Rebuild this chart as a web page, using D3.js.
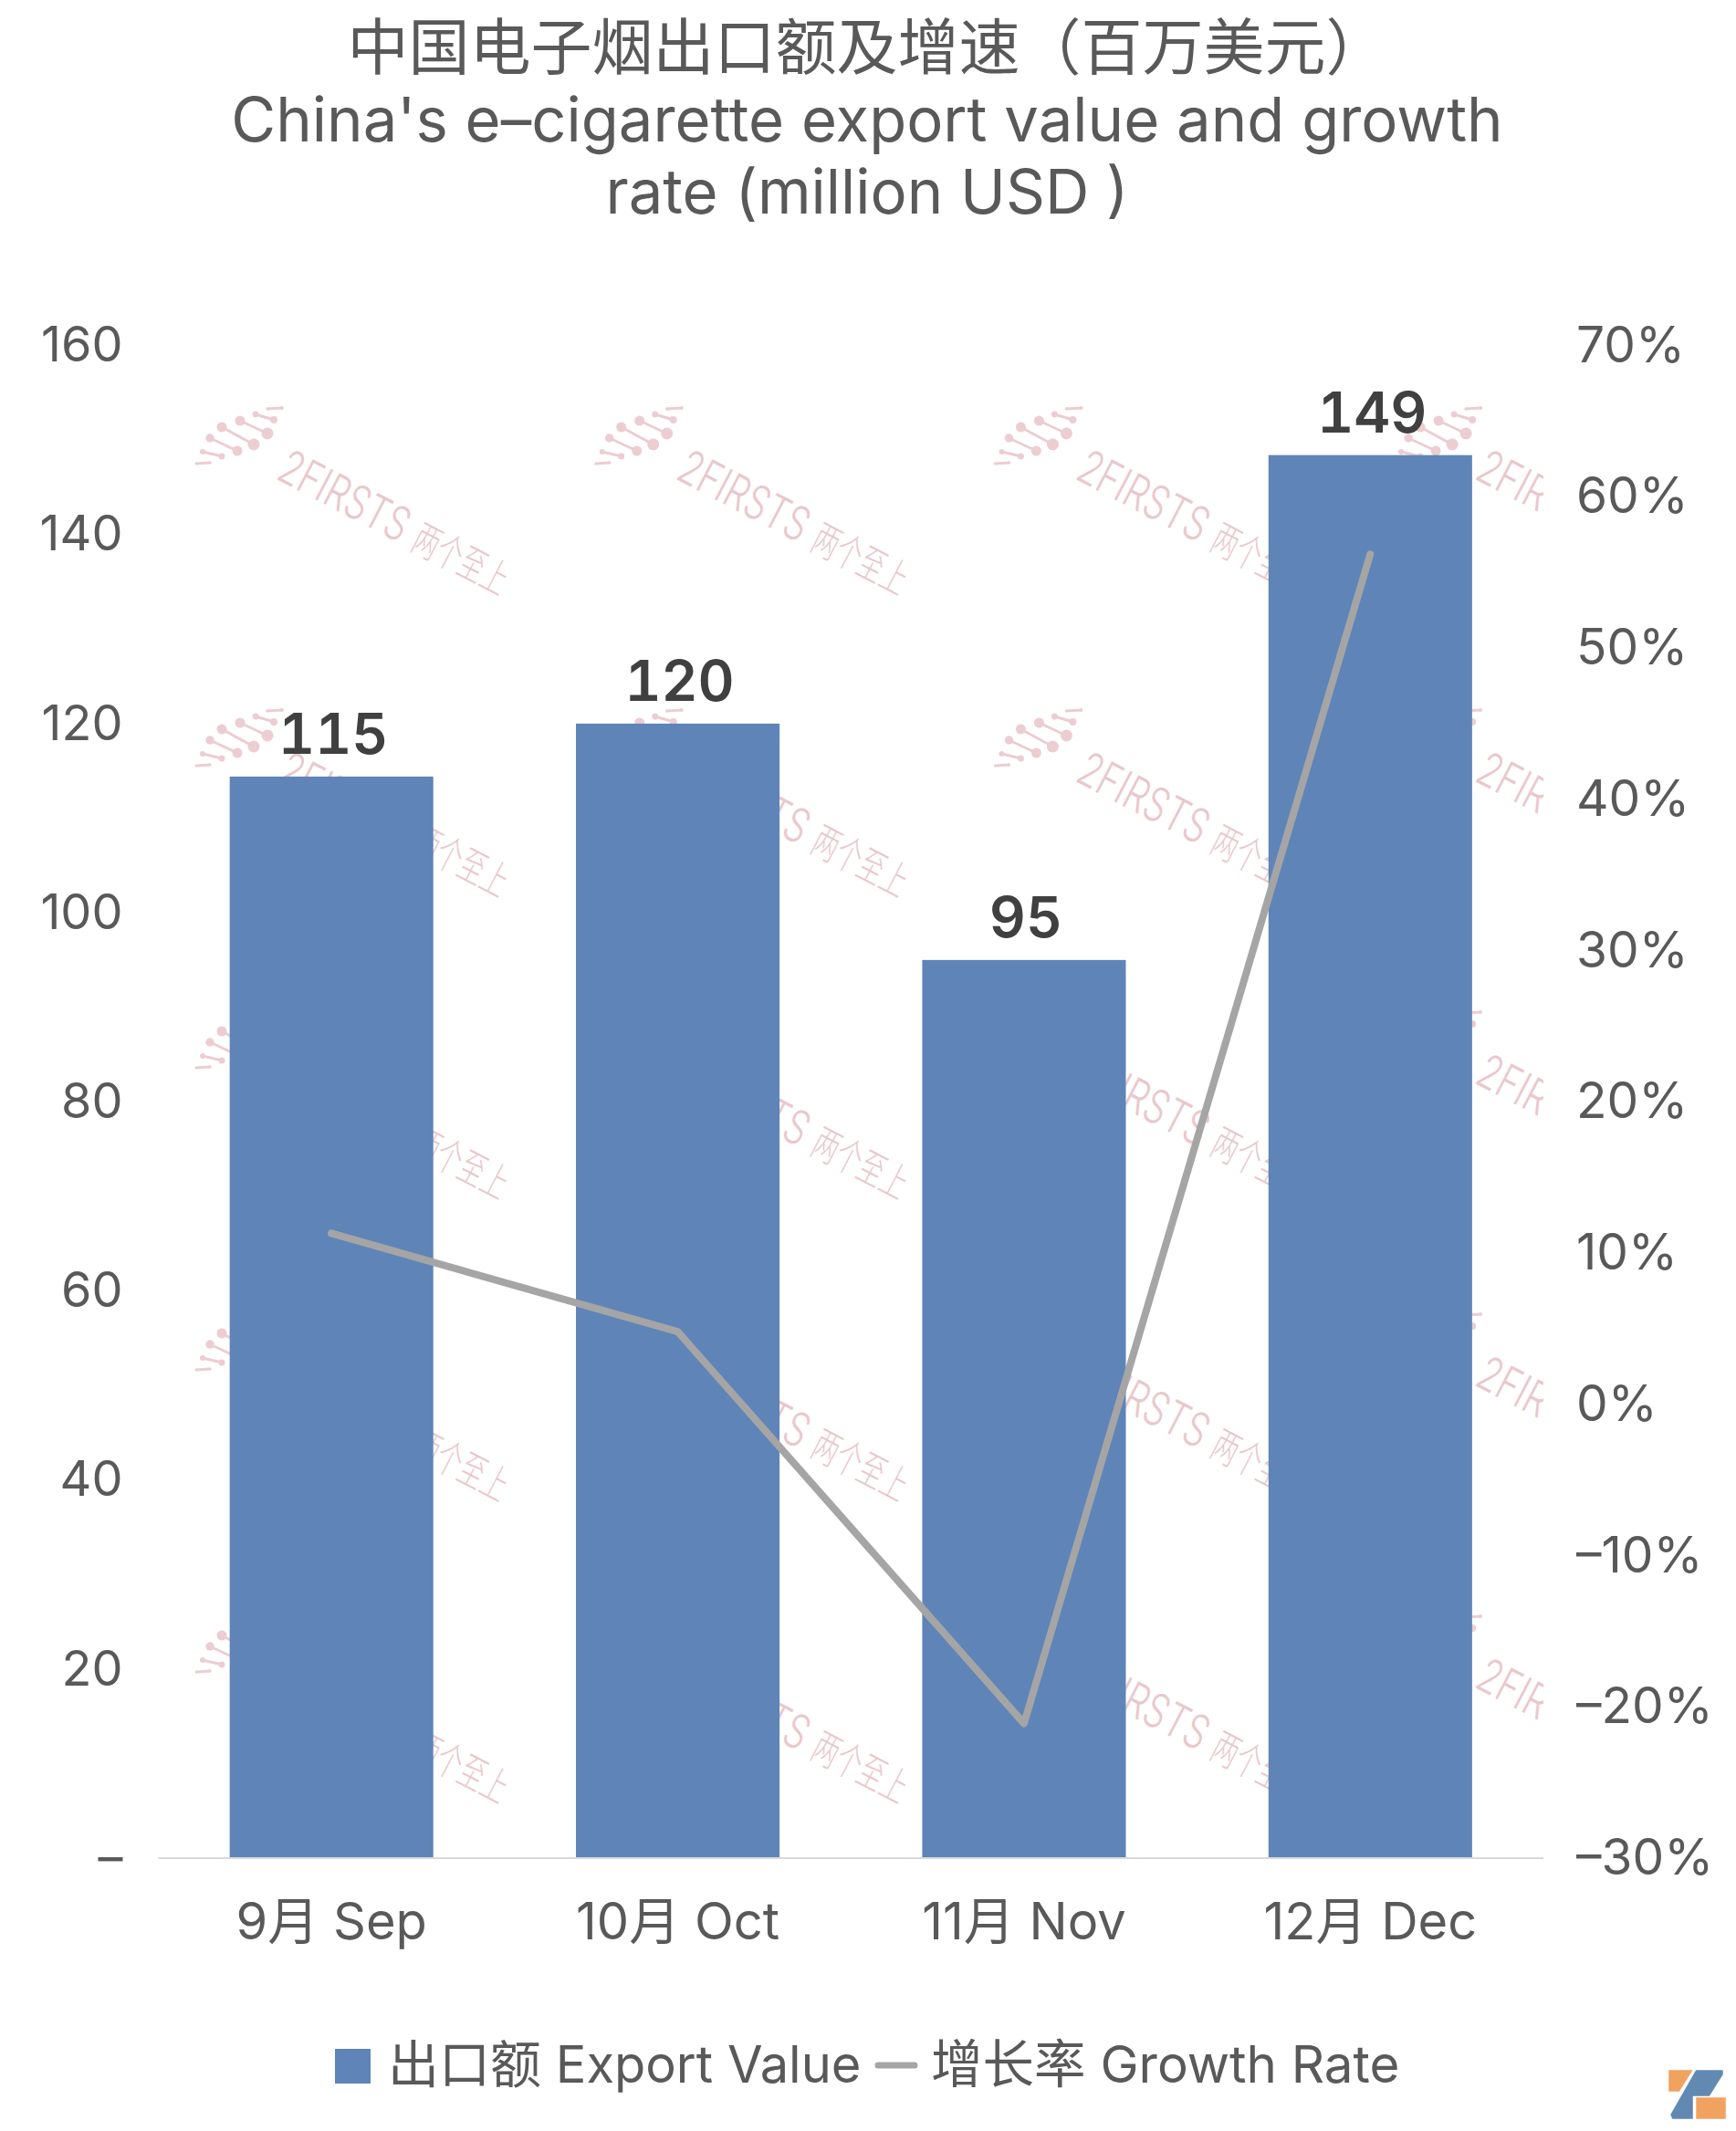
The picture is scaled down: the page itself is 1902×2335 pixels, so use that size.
<!DOCTYPE html>
<html>
<head>
<meta charset="utf-8">
<script src="https://cdnjs.cloudflare.com/ajax/libs/d3/7.8.5/d3.min.js"></script>
<style>
  html, body { margin: 0; padding: 0; background: #fff; }
  svg { display: block; }
  text { font-family: Inter, "Noto Sans CJK SC", sans-serif; fill: #595959; }
</style>
</head>
<body>
<svg id="chart" width="1902" height="2335"></svg>
<script>
const months = ['9月 Sep', '10月 Oct', '11月 Nov', '12月 Dec'];
const exportValue = [114.4, 120, 95, 148.4];
const exportLabels = ['115', '120', '95', '149'];
const growthRate = [11.3, 4.8, -21.1, 56.2];
const valueTicks = [0, 20, 40, 60, 80, 100, 120, 140, 160];
const rateTicks = [-30, -20, -10, 0, 10, 20, 30, 40, 50, 60, 70];
const titleLines = [
  '中国电子烟出口额及增速（百万美元）',
  "China's e–cigarette export value and growth",
  'rate (million USD )'
];

const plot = { left: 173.5, right: 1691, top: 378.5, bottom: 2036 };
const svg = d3.select('#chart');

const x = d3.scaleBand().domain(months).range([plot.left, plot.right]).paddingInner(0.412).paddingOuter(0.206);
const yValue = d3.scaleLinear().domain([0, 160]).range([plot.bottom, plot.top]);
const yRate = d3.scaleLinear().domain([-30, 70]).range([plot.bottom, plot.top]);

// Watermark tiles sit behind the bars and get cut off at the plot's right edge
svg.append('clipPath').attr('id', 'plot-clip')
  .append('rect').attr('x', 0).attr('y', 0).attr('width', plot.right).attr('height', 2335);

const fanLines = [
  [35, 88, 50, 87, 1.8], [42, 75, 63, 80, 3.5], [50, 60, 80, 74, 5.5],
  [63, 48, 98, 67, 6.5], [83, 41, 113, 55, 6.5], [100, 34, 120, 40, 4], [113, 28, 129, 27, 2]
];
const tiles = d3.cross(d3.range(5), d3.range(5)).map(([c, r]) => ({ c, r }));
const tile = svg.append('g').attr('clip-path', 'url(#plot-clip)')
  .selectAll('.tile')
  .data(tiles)
  .enter()
  .append('g')
  .attr('class', 'tile')
  .attr('transform', (d) => `translate(${180 + d.c * 437.7},${420 + d.r * 331})`);

fanLines.forEach((l) => {
  tile.append('line')
    .attr('x1', l[0]).attr('y1', l[1]).attr('x2', l[2]).attr('y2', l[3])
    .attr('stroke', '#eccdd1').attr('stroke-width', 3);
  tile.append('circle').attr('cx', l[0]).attr('cy', l[1]).attr('r', l[4] * 0.85).attr('fill', '#eccdd1');
  tile.append('circle').attr('cx', l[2]).attr('cy', l[3]).attr('r', l[4]).attr('fill', '#eccdd1');
});

const mark = tile.append('g').attr('transform', 'translate(121,104) rotate(27.5)');
mark.append('text')
  .attr('font-size', 52)
  .attr('font-weight', 300)
  .attr('textLength', 154)
  .attr('lengthAdjust', 'spacingAndGlyphs')
  .style('fill', '#e9c8cc')
  .text('2FIRSTS');
mark.append('text')
  .attr('x', 166)
  .attr('font-size', 44)
  .attr('font-weight', 300)
  .attr('textLength', 112)
  .attr('lengthAdjust', 'spacingAndGlyphs')
  .style('fill', '#e9c8cc')
  .text('两个至上');

// Bars
svg.append('g')
  .selectAll('.bar')
  .data(exportValue)
  .enter()
  .append('rect')
  .attr('class', 'bar')
  .attr('x', (d, i) => x(months[i]))
  .attr('y', (d) => yValue(d))
  .attr('width', x.bandwidth())
  .attr('height', (d) => plot.bottom - yValue(d))
  .attr('fill', '#5f84b8');

svg.append('line')
  .attr('x1', plot.left).attr('x2', plot.right)
  .attr('y1', plot.bottom).attr('y2', plot.bottom)
  .attr('stroke', '#d9d9d9').attr('stroke-width', 2);

// Growth line
const line = d3.line()
  .x((d, i) => x(months[i]) + x.bandwidth() / 2)
  .y((d) => yRate(d));

svg.append('path')
  .attr('d', line(growthRate))
  .attr('fill', 'none')
  .attr('stroke', '#a5a5a5')
  .attr('stroke-width', 8)
  .attr('stroke-linecap', 'round')
  .attr('stroke-linejoin', 'round');

// Bar labels, tabular figures keep the 1s as wide as in the reference
svg.append('g')
  .selectAll('text')
  .data(exportValue)
  .enter()
  .append('text')
  .attr('x', (d, i) => x(months[i]) + x.bandwidth() / 2 + 2)
  .attr('y', (d) => yValue(d) - 25)
  .attr('text-anchor', 'middle')
  .attr('font-size', 62)
  .attr('font-weight', 600)
  .style('font-variant-numeric', 'tabular-nums')
  .style('fill', '#404040')
  .text((d, i) => exportLabels[i]);

// Axes
const styleAxis = (size) => (g) => {
  g.select('.domain').remove();
  g.selectAll('.tick line').remove();
  g.selectAll('.tick text').attr('font-size', size).attr('font-family', null).style('fill', '#595959');
};

svg.append('g')
  .attr('transform', `translate(${plot.left},0)`)
  .call(d3.axisLeft(yValue).tickValues(valueTicks).tickSize(0).tickPadding(39)
    .tickFormat((d) => (d === 0 ? '–' : d)))
  .call(styleAxis(54));

svg.append('g')
  .attr('transform', `translate(${plot.right},0)`)
  .call(d3.axisRight(yRate).tickValues(rateTicks).tickSize(0).tickPadding(36)
    .tickFormat((d) => `${d}%`.replace('-', '–')))
  .call(styleAxis(55));

svg.append('g')
  .attr('transform', `translate(0,${plot.bottom})`)
  .call(d3.axisBottom(x).tickSize(0).tickPadding(49))
  .call(styleAxis(56));

// Title
svg.append('g')
  .selectAll('text')
  .data(titleLines)
  .enter()
  .append('text')
  .attr('x', 950)
  .attr('y', (d, i) => 76 + i * 79)
  .attr('text-anchor', 'middle')
  .attr('font-size', 67)
  .text((d) => d);

// Legend
svg.append('rect').attr('x', 367).attr('y', 2245).attr('width', 39).attr('height', 38).attr('fill', '#5f84b8');
svg.append('text').attr('x', 425).attr('y', 2282).attr('font-size', 56).text('出口额 Export Value');
svg.append('line')
  .attr('x1', 962).attr('x2', 1002).attr('y1', 2263).attr('y2', 2263)
  .attr('stroke', '#a5a5a5').attr('stroke-width', 7).attr('stroke-linecap', 'round');
svg.append('text').attr('x', 1020).attr('y', 2282).attr('font-size', 56.5).text('增长率 Growth Rate');

// Corner logo
const logoShapes = [
  { fill: '#f2a25f', points: '1828,2268 1855,2268 1840,2292 1828,2292' },
  { fill: '#6189b2', points: '1858,2268 1888,2268 1888,2273 1873,2297 1855,2297 1855,2322 1832,2322 1830,2317' },
  { fill: '#f2a25f', points: '1858,2298 1891,2298 1891,2322 1858,2322' }
];
svg.append('g')
  .selectAll('polygon')
  .data(logoShapes)
  .enter()
  .append('polygon')
  .attr('points', (d) => d.points)
  .attr('fill', (d) => d.fill)
  .attr('stroke', '#fff')
  .attr('stroke-width', 0.5);
</script>
</body>
</html>
